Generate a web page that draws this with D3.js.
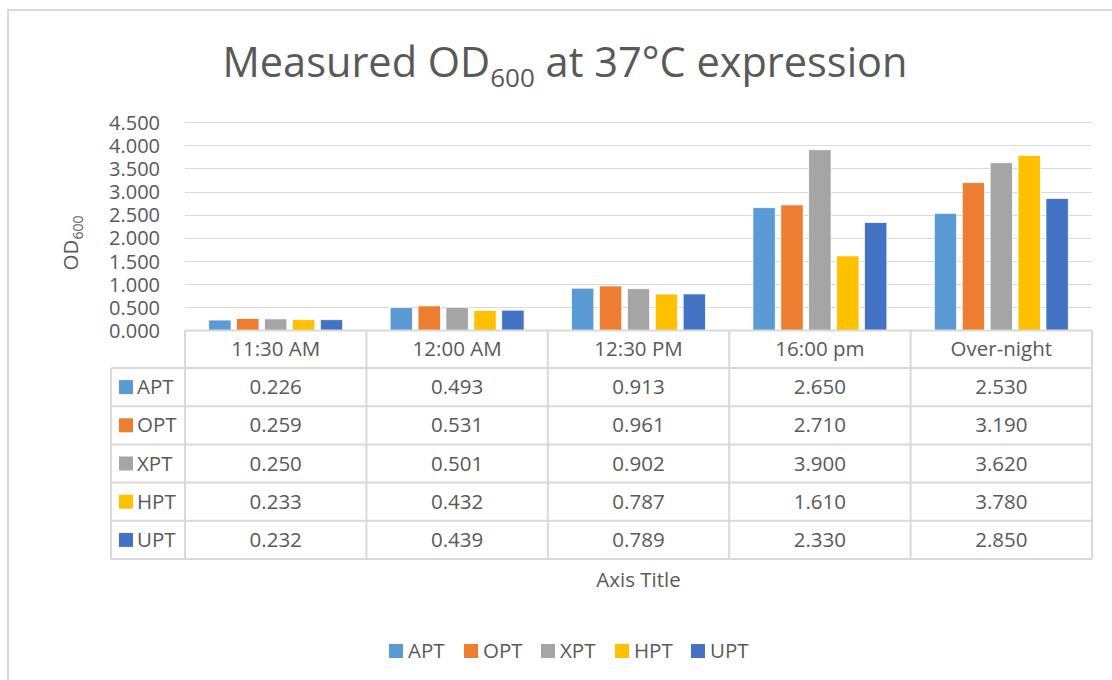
<!DOCTYPE html>
<html>
<head>
<meta charset="utf-8">
<script src="https://cdn.jsdelivr.net/npm/d3@7"></script>
<style>
  body { margin: 0; background: #fff; }
  text { font-family: 'Open Sans', sans-serif; fill: #595959; }
</style>
</head>
<body>
<div id="chart"></div>
<script>
// data
const categories = ['11:30 AM', '12:00 AM', '12:30 PM', '16:00 pm', 'Over-night'];
const seriesNames = ['APT', 'OPT', 'XPT', 'HPT', 'UPT'];
const seriesColors = ['#5B9BD5', '#ED7D31', '#A5A5A5', '#FFC000', '#4472C4'];
const apt = [0.226, 0.493, 0.913, 2.65, 2.53];
const opt = [0.259, 0.531, 0.961, 2.71, 3.19];
const xpt = [0.25, 0.501, 0.902, 3.9, 3.62];
const hpt = [0.233, 0.432, 0.787, 1.61, 3.78];
const upt = [0.232, 0.439, 0.789, 2.33, 2.85];
const yTicks = [0, 0.5, 1, 1.5, 2, 2.5, 3, 3.5, 4, 4.5];

const seriesValues = [apt, opt, xpt, hpt, upt];
const fmt = d3.format('.3f');
const gridColor = '#d9d9d9';
const fontSize = '20.5px';

const width = 1112;
const height = 680;

const svg = d3
  .select('#chart')
  .append('svg')
  .attr('width', width)
  .attr('height', height);

// chart area border (right and bottom lie outside the window)
svg
  .append('rect')
  .attr('x', 8)
  .attr('y', 10)
  .attr('width', 1120)
  .attr('height', 700)
  .attr('fill', '#fff')
  .attr('stroke', gridColor)
  .attr('stroke-width', 2);

// plot area
const plotLeft = 185;
const plotRight = 1092;
const plotTop = 122;
const plotBottom = 330.5;

const x = d3.scaleBand().domain(categories).range([plotLeft, plotRight]);
const x1 = d3
  .scaleBand()
  .domain(seriesNames)
  .range([0, x.bandwidth()])
  .paddingInner(0.2)
  .paddingOuter(0.85);
const y = d3.scaleLinear().domain([0, 4.5]).range([plotBottom, plotTop]);

// title with subscript
const title = svg
  .append('text')
  .attr('x', 565)
  .attr('y', 77)
  .attr('text-anchor', 'middle')
  .style('font-size', '41.5px');
title.append('tspan').text('Measured OD');
title.append('tspan').attr('dy', 10).style('font-size', '26px').text('600');
title.append('tspan').attr('dy', -10).text(' at 37°C expression');

// gridlines
svg
  .append('g')
  .selectAll('line')
  .data(yTicks.slice(1))
  .join('line')
  .attr('x1', plotLeft)
  .attr('x2', plotRight)
  .attr('y1', (d) => Math.round(y(d)) + 0.5)
  .attr('y2', (d) => Math.round(y(d)) + 0.5)
  .attr('stroke', gridColor)
  .attr('stroke-width', 1.2);

// y axis labels
const yAxis = svg
  .append('g')
  .attr('transform', `translate(${plotLeft - 22},0)`)
  .call(d3.axisLeft(y).tickValues(yTicks).tickFormat(fmt).tickSize(0));
yAxis.select('.domain').remove();
yAxis
  .selectAll('text')
  .style('font-size', '20px')
  .attr('fill', '#595959')
  .attr('dy', '0.35em');

// y axis title
const yTitle = svg
  .append('text')
  .attr('transform', 'translate(78,243) rotate(-90)')
  .attr('text-anchor', 'middle')
  .style('font-size', fontSize);
yTitle.append('tspan').text('OD');
yTitle.append('tspan').attr('dy', 5).style('font-size', '14px').text('600');

// bars
const groups = svg
  .append('g')
  .selectAll('g')
  .data(categories)
  .join('g')
  .attr('transform', (d) => `translate(${x(d)},0)`);

groups
  .selectAll('rect')
  .data((d, i) => seriesNames.map((s, j) => ({ s, v: seriesValues[j][i], c: seriesColors[j] })))
  .join('rect')
  .attr('x', (d) => x1(d.s))
  .attr('width', x1.bandwidth())
  .attr('y', (d) => y(d.v))
  .attr('height', (d) => plotBottom - y(d.v))
  .attr('fill', (d) => d.c)
  .attr('stroke', '#fff')
  .attr('stroke-width', 0.75);

// data table
const rowH = 38.2;
const headerBottom = 368;
const tableLeft = 111;
const tableBottom = headerBottom + rowH * seriesNames.length;
const table = svg.append('g');

// horizontal lines
table
  .append('line')
  .attr('x1', plotLeft)
  .attr('x2', plotRight)
  .attr('y1', plotBottom)
  .attr('y2', plotBottom)
  .attr('stroke', gridColor)
  .attr('stroke-width', 2);
table
  .selectAll('.hline')
  .data(d3.range(seriesNames.length + 1))
  .join('line')
  .attr('class', 'hline')
  .attr('x1', tableLeft)
  .attr('x2', plotRight)
  .attr('y1', (i) => headerBottom + i * rowH)
  .attr('y2', (i) => headerBottom + i * rowH)
  .attr('stroke', gridColor)
  .attr('stroke-width', 2);

// vertical lines
table
  .selectAll('.vline')
  .data(categories.map((c) => x(c)).concat([plotRight]))
  .join('line')
  .attr('class', 'vline')
  .attr('x1', (d) => d)
  .attr('x2', (d) => d)
  .attr('y1', plotBottom)
  .attr('y2', tableBottom)
  .attr('stroke', gridColor)
  .attr('stroke-width', 2);
table
  .append('line')
  .attr('x1', tableLeft)
  .attr('x2', tableLeft)
  .attr('y1', headerBottom)
  .attr('y2', tableBottom)
  .attr('stroke', gridColor)
  .attr('stroke-width', 2);

// header labels
table
  .selectAll('.head')
  .data(categories)
  .join('text')
  .attr('class', 'head')
  .attr('x', (d) => x(d) + x.bandwidth() / 2)
  .attr('y', (plotBottom + headerBottom) / 2)
  .attr('dy', '0.35em')
  .attr('text-anchor', 'middle')
  .style('font-size', fontSize)
  .text((d) => d);

// row keys and values
seriesNames.forEach((name, j) => {
  const cy = headerBottom + j * rowH + rowH / 2;
  table
    .append('rect')
    .attr('x', 119)
    .attr('y', cy - 7)
    .attr('width', 14)
    .attr('height', 14)
    .attr('fill', seriesColors[j]);
  table
    .append('text')
    .attr('x', 137)
    .attr('y', cy)
    .attr('dy', '0.35em')
    .style('font-size', fontSize)
    .text(name);
  table
    .selectAll('.v' + j)
    .data(categories)
    .join('text')
    .attr('class', 'v' + j)
    .attr('x', (d) => x(d) + x.bandwidth() / 2)
    .attr('y', cy)
    .attr('dy', '0.35em')
    .attr('text-anchor', 'middle')
    .style('font-size', fontSize)
    .text((d, i) => fmt(seriesValues[j][i]));
});

// x axis title
svg
  .append('text')
  .attr('x', (plotLeft + plotRight) / 2)
  .attr('y', 580)
  .attr('dy', '0.35em')
  .attr('text-anchor', 'middle')
  .style('font-size', fontSize)
  .text('Axis Title');

// legend
const legendX = [389, 464, 541, 615, 691];
const legend = svg
  .append('g')
  .selectAll('g')
  .data(seriesNames)
  .join('g')
  .attr('transform', (d, i) => `translate(${legendX[i]},651)`);
legend
  .append('rect')
  .attr('y', -7)
  .attr('width', 14)
  .attr('height', 14)
  .attr('fill', (d, i) => seriesColors[i]);
legend
  .append('text')
  .attr('x', 19)
  .attr('dy', '0.35em')
  .style('font-size', fontSize)
  .text((d) => d);
</script>
</body>
</html>
